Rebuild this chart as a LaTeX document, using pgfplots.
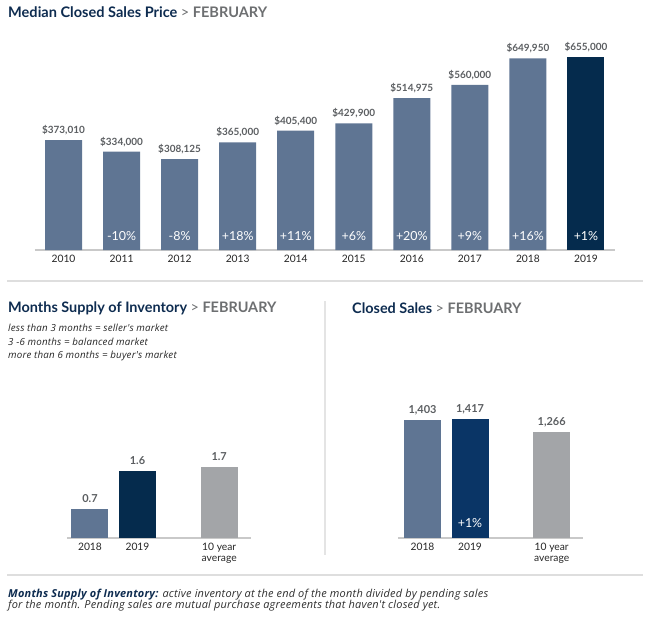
\documentclass[border=0pt]{standalone}
\usepackage{fontspec}
\setmainfont{Lato}
\newfontfamily\osans{Open Sans}
\newfontfamily\osanssp[LetterSpace=2]{Open Sans}
\usepackage{pgfplots}
\pgfplotsset{compat=1.18}
\definecolor{slate}{HTML}{5F7593}
\definecolor{navy}{HTML}{052B4D}
\definecolor{navyb}{HTML}{0A3566}
\definecolor{barg}{HTML}{A3A5A8}
\definecolor{axg}{HTML}{C9C9C9}
\definecolor{valg}{HTML}{5B5E61}
\definecolor{tnavy}{HTML}{0E2C50}
\definecolor{tgray}{HTML}{6D6F71}
\definecolor{sep}{HTML}{DEDEDE}
\pgfplotsset{
 barbase/.style={
  scale only axis, clip=false,
  axis x line*=bottom, axis y line=none,
  x axis line style={draw=axg, line width=1.3bp},
  major tick length=0pt, xtick style={draw=none},
  ymin=0,
  xticklabel style={font=\fontsize{10.3}{11}\selectfont, text=black!85, inner sep=0pt, yshift=-5bp, align=center},
  every node near coord/.style={font=\bfseries\fontsize{10}{10}\selectfont, text=valg, anchor=base, inner sep=0pt, yshift=6.5bp},
  nodes near coords, point meta=explicit symbolic,
 },
 mybar/.style={ybar, bar width=37bp, bar shift=0pt, draw=none, fill=#1},
}
\begin{document}
\begin{tikzpicture}
\path[use as bounding box] (0,0) rectangle (650bp,-636bp);
% titles
\node[anchor=west, inner sep=0pt, font=\bfseries\fontsize{14.6}{15}\selectfont, text=tnavy] at (8bp,-12bp) {Median Closed Sales Price \textcolor{tgray}{\mdseries >} \textcolor{tgray}{FEBRUARY}};
\node[anchor=west, inner sep=0pt, font=\bfseries\fontsize{14.5}{15}\selectfont, text=tnavy] at (8bp,-308bp) {Months Supply of Inventory \textcolor{tgray}{\mdseries >} \textcolor{tgray}{FEBRUARY}};
\node[anchor=west, inner sep=0pt, font=\bfseries\fontsize{14.5}{15}\selectfont, text=tnavy] at (352bp,-308bp) {Closed Sales \textcolor{tgray}{\mdseries >} \textcolor{tgray}{FEBRUARY}};
\foreach \t/\y in {{less than 3 months = seller's market}/328,{3 -6 months = balanced market}/342,{more than 6 months = buyer's market}/356}
  \node[anchor=west, inner sep=0pt, font=\osanssp\itshape\fontsize{9.8}{10}\selectfont, text=black!85] at (8bp,-\y bp) {\t};
% separators
\draw[sep, line width=1.5bp] (7bp,-281bp) -- (643bp,-281bp);
\draw[sep, line width=1.5bp] (7bp,-575bp) -- (643bp,-575bp);
\draw[sep!80!white, line width=1.5bp] (325bp,-301bp) -- (325bp,-555bp);
% footnote
\node[anchor=base west, inner sep=0pt, font=\osanssp\itshape\fontsize{11}{11}\selectfont, text=black!82] at (8bp,-597bp) {\textcolor{tnavy}{\bfseries Months Supply of Inventory:} active inventory at the end of the month divided by pending sales};
\node[anchor=base west, inner sep=0pt, font=\osanssp\itshape\fontsize{11}{11}\selectfont, text=black!82] at (8bp,-608bp) {for the month. Pending sales are mutual purchase agreements that haven't closed yet.};

% top chart
\begin{axis}[barbase, at={(34.5bp,-250bp)}, anchor=south west, width=580.5bp, height=206.3bp,
  xmin=-0.5, xmax=9.5, ymax=700000, xtick={0,1,2,3,4,5,6,7,8,9},
  xticklabels={2010,2011,2012,2013,2014,2015,2016,2017,2018,2019}]
\addplot[mybar=slate] coordinates {(0,373010)[\$373,010] (1,334000)[\$334,000] (2,308125)[\$308,125] (3,365000)[\$365,000] (4,405400)[\$405,400] (5,429900)[\$429,900] (6,514975)[\$514,975] (7,560000)[\$560,000] (8,649950)[\$649,950]};
\addplot[mybar=navy] coordinates {(9,655000)[\$655,000]};
\foreach \i/\p in {1/-10,2/-8,3/+18,4/+11,5/+6,6/+20,7/+9,8/+16,9/+1}{
  \edef\tmp{\noexpand\node[font=\noexpand\fontsize{12.5}{13}\noexpand\selectfont, text=white, inner sep=0pt] at (axis cs:\i,47500) {\p\noexpand\%};}\tmp
}
\end{axis}

% months supply
\begin{axis}[barbase, at={(67.2bp,-538bp)}, anchor=south west, width=183.8bp, height=83.6bp,
  xmin=-0.48, xmax=3.39, ymax=2, xtick={0,1,2.72},
  xticklabels={2018,2019,{10 year\\average}},
  every node near coord/.append style={font=\bfseries\fontsize{11}{11}\selectfont}]
\addplot[mybar=slate] coordinates {(0,0.7)[0.7]};
\addplot[mybar=navy] coordinates {(1,1.6)[1.6]};
\addplot[mybar=barg] coordinates {(2.72,1.7)[1.7]};
\end{axis}

% closed sales
\begin{axis}[barbase, at={(397.8bp,-538bp)}, anchor=south west, width=185.25bp, height=134.4bp,
  xmin=-0.52, xmax=3.38, ymax=1600, xtick={0,1,2.72},
  xticklabels={2018,2019,{10 year\\average}},
  every node near coord/.append style={font=\bfseries\fontsize{11}{11}\selectfont}]
\addplot[mybar=slate] coordinates {(0,1403)[1,403]};
\addplot[mybar=navyb] coordinates {(1,1417)[1,417]};
\addplot[mybar=barg] coordinates {(2.72,1266)[1,266]};
\node[font=\fontsize{12.5}{13}\selectfont, text=white, inner sep=0pt] at (axis cs:1,178) {+1\%};
\end{axis}
\end{tikzpicture}
\end{document}
